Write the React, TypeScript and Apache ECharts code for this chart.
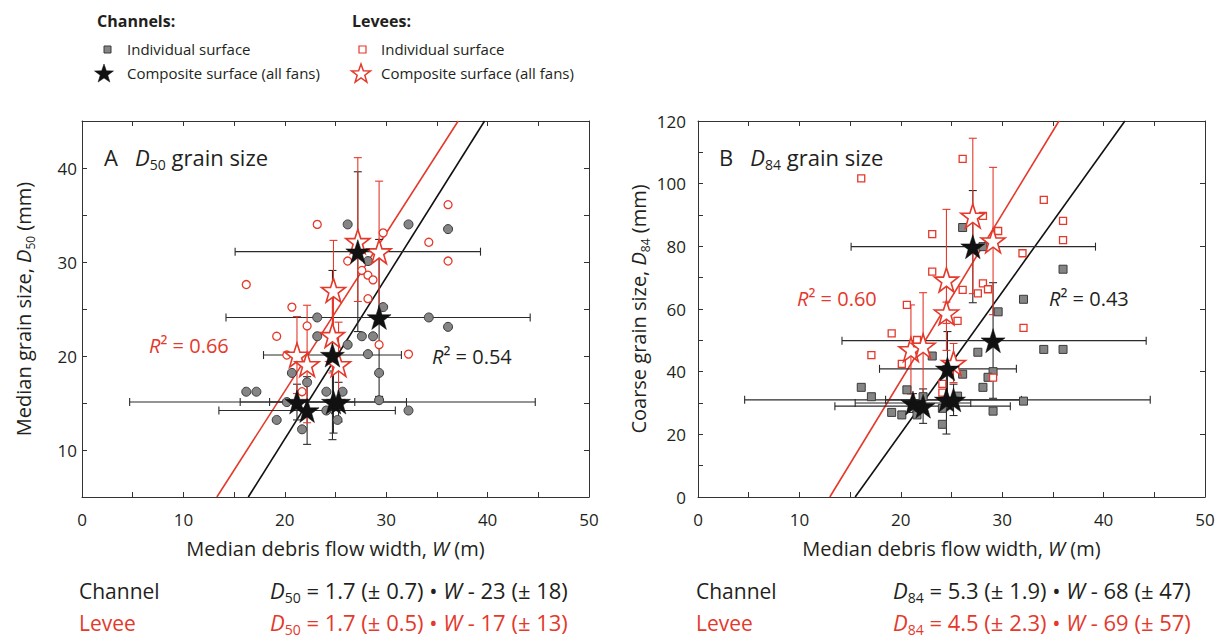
import React, { useEffect, useRef } from 'react';
import * as echarts from 'echarts';

const RED = '#e4392b';
const INK = '#231f20';
const GRAY_FILL = '#858585';
const GRAY_EDGE = '#3a3a3a';
const FONT = '"Open Sans", "Noto Sans", sans-serif';
const STAR = 'path://M50,0L61.8,35.1L98.1,35.1L68.8,56.7L79.4,91L50,70L20.6,91L31.2,56.7L1.9,35.1L38.2,35.1Z';

// ---------- Panel A: D50 ----------
const channelIndividualA = [
  [26.2, 34.0], [32.2, 34.0], [36.1, 33.5], [28.2, 30.1], [29.7, 25.2],
  [23.2, 24.1], [23.2, 22.1], [20.7, 18.2], [22.2, 17.2], [16.2, 16.2], [17.2, 16.2],
  [20.2, 15.1], [19.2, 13.2], [21.7, 12.2], [24.1, 16.2], [24.1, 14.2], [25.2, 13.2],
  [34.2, 24.1], [36.1, 23.1], [27.6, 22.1], [28.7, 22.1], [26.2, 21.2], [28.2, 20.2],
  [29.3, 18.2], [25.7, 16.2], [29.3, 15.3], [32.2, 14.2],
];
const leveeIndividualA = [
  [23.2, 34.0], [16.2, 27.6], [20.7, 25.2], [36.1, 36.1], [34.2, 32.1], [36.1, 30.1],
  [26.2, 30.1], [29.7, 33.1], [27.6, 29.1], [28.2, 28.6], [28.7, 28.1], [28.2, 26.1],
  [22.2, 23.2], [19.2, 22.1], [20.2, 20.1], [21.7, 16.2], [29.3, 21.2], [32.2, 20.2],
];
// [W, D50, Wlow, Whigh, D50low, D50high]
const channelCompositeA = [
  [27.2, 31.1, 15.1, 39.3, 22.6, 39.6],
  [29.3, 24.1, 14.2, 44.2, 15.7, 32.4],
  [24.7, 20.1, 17.9, 31.5, 11.1, 29.1],
  [21.2, 15.1, 15.6, 26.9, 13.2, 17.0],
  [24.8, 15.1, 4.7, 44.7, 11.8, 18.4],
  [25.3, 15.1, 18.5, 32.0, 13.0, 17.2],
  [22.2, 14.2, 13.5, 30.9, 10.6, 17.8],
];
// [W, D50, D50low, D50high]
const leveeCompositeA = [
  [27.2, 32.2, 25.8, 41.1],
  [29.3, 31.1, 23.6, 38.6],
  [24.8, 27.0, 21.7, 32.3],
  [24.7, 22.2, 18.2, 26.2],
  [25.3, 19.1, 14.6, 23.6],
  [21.2, 20.1, 16.0, 24.2],
  [22.2, 19.1, 12.9, 25.4],
];
const channelFitA = [[16.4, 5], [39.7, 45]];
const leveeFitA = [[13.3, 5], [37.1, 45]];

// ---------- Panel B: D84 ----------
const channelIndividualB = [
  [26.1, 86.0], [28.1, 79.9], [36.0, 72.7], [32.1, 63.1],
  [23.1, 45.0], [16.1, 35.0], [17.1, 32.0], [20.6, 34.2], [22.2, 32.0], [19.1, 27.0],
  [20.1, 26.2], [21.6, 26.2], [24.1, 28.3], [24.1, 23.2],
  [29.6, 59.1], [27.6, 46.2], [34.1, 47.1], [36.0, 47.1], [26.1, 39.2], [29.1, 40.0],
  [28.6, 38.2], [28.1, 35.0], [32.1, 30.6], [29.1, 27.4], [25.6, 32.2],
];
const leveeIndividualB = [
  [16.1, 101.7], [23.1, 83.9], [23.1, 71.9], [20.6, 61.3],
  [26.1, 107.9], [28.1, 89.7], [34.1, 94.8], [36.0, 88.1], [36.0, 82.0], [32.0, 77.8],
  [29.6, 84.9], [28.1, 68.2], [26.1, 66.1], [27.6, 65.0], [28.6, 66.3],
  [19.1, 52.2], [21.6, 50.1], [17.1, 45.3], [20.1, 42.5], [24.1, 36.1], [24.1, 33.3],
  [32.1, 54.0], [25.6, 56.2], [29.1, 38.1],
];
const channelCompositeB = [
  [27.1, 79.9, 15.1, 39.2, 62.0, 97.8],
  [29.1, 49.9, 14.2, 44.2, 31.5, 68.4],
  [24.6, 40.9, 17.9, 31.4, 29.0, 52.8],
  [21.2, 30.0, 15.5, 26.9, 27.0, 33.0],
  [22.2, 29.0, 13.5, 30.8, 23.5, 34.5],
  [24.5, 31.0, 4.6, 44.6, 20.1, 41.9],
  [25.2, 31.0, 18.5, 31.9, 26.0, 36.0],
];
const leveeCompositeB = [
  [27.1, 89.7, 64.9, 114.5],
  [29.1, 81.8, 58.2, 105.2],
  [24.5, 69.3, 46.8, 91.8],
  [24.5, 58.8, 55.4, 62.2],
  [21.0, 47.1, 32.9, 61.3],
  [22.2, 48.2, 31.2, 65.2],
  [25.2, 42.7, 36.5, 49.0],
];
const channelFitB = [[15.5, 0], [42.1, 120]];
const leveeFitB = [[13.0, 0], [35.6, 120]];

const xTicks = { min: 0, max: 50, interval: 5, labelEvery: 10 };
const yTicksA = { min: 5, max: 45, interval: 5, labelEvery: 10, rightInterval: 5 };
const yTicksB = { min: 0, max: 120, interval: 10, labelEvery: 20, rightInterval: 20 };

function errorRender(color: string) {
  return (_params: any, api: any) => {
    const w = api.value(0), d = api.value(1);
    const wl = api.value(2), wh = api.value(3), dl = api.value(4), dh = api.value(5);
    const style = { stroke: color, lineWidth: 1.1 };
    const cap = 4;
    const children: any[] = [];
    const seg = (a: number[], b: number[]) =>
      children.push({ type: 'line', shape: { x1: a[0], y1: a[1], x2: b[0], y2: b[1] }, style });
    if (wl !== wh) {
      const a = api.coord([wl, d]);
      const b = api.coord([wh, d]);
      seg(a, b);
      seg([a[0], a[1] - cap], [a[0], a[1] + cap]);
      seg([b[0], b[1] - cap], [b[0], b[1] + cap]);
    }
    if (dl !== dh) {
      const a = api.coord([w, dl]);
      const b = api.coord([w, dh]);
      seg(a, b);
      seg([a[0] - cap, a[1]], [a[0] + cap, a[1]]);
      seg([b[0] - cap, b[1]], [b[0] + cap, b[1]]);
    }
    return { type: 'group', children };
  };
}

const richBase = (size: number, color: string) => ({
  n: { fontSize: size, fontFamily: FONT, color, lineHeight: Math.round(size * 1.32) },
  i: { fontSize: size, fontFamily: FONT, color, fontStyle: 'italic', lineHeight: Math.round(size * 1.32) },
  s: { fontSize: Math.round(size * 0.62), fontFamily: FONT, color, lineHeight: Math.round(size * 0.62), verticalAlign: 'bottom' },
});

function starPts(cx: number, cy: number, R: number) {
  const pts: number[][] = [];
  for (let k = 0; k < 10; k++) {
    const ang = (-90 + k * 36) * Math.PI / 180;
    const r = k % 2 === 0 ? R : R * 0.4;
    pts.push([cx + r * Math.cos(ang), cy + r * Math.sin(ang)]);
  }
  return pts;
}

function txt(x: number, y: number, text: string, size: number, color: string, extra: any = {}) {
  return {
    type: 'text', x, y, silent: true,
    style: {
      text, fill: color, fontSize: size, fontFamily: FONT,
      verticalAlign: 'middle', textVerticalAlign: 'middle', align: 'left', textAlign: 'left',
      ...extra,
    },
  };
}
function richTxt(x: number, y: number, text: string, size: number, color: string) {
  return {
    type: 'text', x, y, silent: true,
    style: {
      text, fill: color, fontSize: size, fontFamily: FONT,
      verticalAlign: 'middle', textVerticalAlign: 'middle', align: 'left', textAlign: 'left',
      rich: richBase(size, color),
    },
  };
}

export default function App() {
  const ref = useRef<HTMLDivElement>(null);
  useEffect(() => {
    document.body.style.margin = '0';
    if (!ref.current) return;
    const chart = echarts.init(ref.current, undefined, { renderer: 'svg' });

    const axisLine = { show: true, onZero: false, lineStyle: { color: '#333', width: 1 } };
    const tick = { show: true, inside: true, length: 5, lineStyle: { color: '#333', width: 1 } };
    const labelStyle = { fontSize: 17, fontFamily: FONT, color: INK };

    const xAxisPair = (gi: number, nameSize: number) => [
      {
        gridIndex: gi, type: 'value', min: xTicks.min, max: xTicks.max, interval: xTicks.interval,
        position: 'bottom', axisLine, axisTick: tick, splitLine: { show: false },
        axisLabel: { ...labelStyle, margin: 14, formatter: (v: number) => (v % xTicks.labelEvery === 0 ? String(v) : '') },
        name: '{n|Median debris flow width, }{i|W}{n| (m)}',
        nameLocation: 'middle', nameGap: 38,
        nameTextStyle: { rich: richBase(nameSize, INK) },
      },
      {
        gridIndex: gi, type: 'value', min: xTicks.min, max: xTicks.max, interval: xTicks.interval,
        position: 'top', axisLine, axisTick: tick, splitLine: { show: false }, axisLabel: { show: false },
      },
    ];
    const yAxisPair = (gi: number, t: any, name: string, gap: number, labelMargin: number) => [
      {
        gridIndex: gi, type: 'value', min: t.min, max: t.max, interval: t.interval,
        position: 'left', axisLine, axisTick: tick, splitLine: { show: false },
        axisLabel: { ...labelStyle, margin: labelMargin, formatter: (v: number) => (v % t.labelEvery === 0 ? String(v) : '') },
        name, nameLocation: 'middle', nameGap: gap, nameRotate: 90,
        nameTextStyle: { rich: richBase(20, INK) },
      },
      {
        gridIndex: gi, type: 'value', min: t.min, max: t.max, interval: t.rightInterval,
        position: 'right', axisLine, axisTick: tick, splitLine: { show: false }, axisLabel: { show: false },
      },
    ];

    const panelSeries = (xi: number, yi: number, chInd: number[][], lvInd: number[][], chComp: number[][], lvComp: number[][], chFit: number[][], lvFit: number[][], indSymbol: string, indSize: number) => [
      {
        type: 'line', xAxisIndex: xi, yAxisIndex: yi, data: lvFit, symbol: 'none', silent: true, z: 1,
        lineStyle: { color: RED, width: 1.6 },
      },
      {
        type: 'line', xAxisIndex: xi, yAxisIndex: yi, data: chFit, symbol: 'none', silent: true, z: 1,
        lineStyle: { color: '#111', width: 1.6 },
      },
      {
        type: 'custom', xAxisIndex: xi, yAxisIndex: yi, z: 2, silent: true,
        renderItem: errorRender('#2b2b2b'), data: chComp, encode: { x: 0, y: 1 },
      },
      {
        type: 'custom', xAxisIndex: xi, yAxisIndex: yi, z: 2, silent: true,
        renderItem: errorRender(RED), data: lvComp.map((r) => [r[0], r[1], r[0], r[0], r[2], r[3]]), encode: { x: 0, y: 1 },
      },
      {
        type: 'scatter', xAxisIndex: xi, yAxisIndex: yi, z: 3, data: chInd, symbol: indSymbol, symbolSize: indSize,
        itemStyle: { color: GRAY_FILL, borderColor: GRAY_EDGE, borderWidth: 1, opacity: 1 },
      },
      {
        type: 'scatter', xAxisIndex: xi, yAxisIndex: yi, z: 3, data: lvInd, symbol: indSymbol, symbolSize: indSize - 1,
        itemStyle: { color: '#ffffff', borderColor: RED, borderWidth: 1.3, opacity: 1 },
      },
      {
        type: 'scatter', xAxisIndex: xi, yAxisIndex: yi, z: 4, data: lvComp.map((r) => [r[0], r[1]]), symbol: STAR, symbolSize: 24,
        itemStyle: { color: '#ffffff', borderColor: RED, borderWidth: 1.6, opacity: 1 },
      },
      {
        type: 'scatter', xAxisIndex: xi, yAxisIndex: yi, z: 5, data: chComp.map((r) => [r[0], r[1]]), symbol: STAR, symbolSize: 24,
        itemStyle: { color: '#111111', borderColor: '#111111', borderWidth: 0.5, opacity: 1 },
      },
    ];

    const graphic: any[] = [
      // legend
      txt(97, 21, 'Channels:', 16, INK, { fontWeight: 'bold' }),
      { type: 'rect', shape: { x: 104, y: 46, width: 7, height: 7 }, style: { fill: GRAY_FILL, stroke: GRAY_EDGE, lineWidth: 1 }, silent: true },
      txt(127, 49, 'Individual surface', 15, INK),
      { type: 'polygon', shape: { points: starPts(104, 74, 10) }, style: { fill: '#111', stroke: '#111', lineWidth: 0.5 }, silent: true },
      txt(127, 73, 'Composite surface (all fans)', 15, INK),
      txt(352, 21, 'Levees:', 16, INK, { fontWeight: 'bold' }),
      { type: 'rect', shape: { x: 359, y: 46, width: 7, height: 7 }, style: { fill: '#fff', stroke: RED, lineWidth: 1.2 }, silent: true },
      txt(381, 49, 'Individual surface', 15, INK),
      { type: 'polygon', shape: { points: starPts(361, 74, 10) }, style: { fill: '#fff', stroke: RED, lineWidth: 1.5 }, silent: true },
      txt(381, 73, 'Composite surface (all fans)', 15, INK),
      // panel labels
      richTxt(104, 157, '{n|A   }{i|D}{s|50}{n| grain size}', 22, INK),
      richTxt(719, 157, '{n|B   }{i|D}{s|84}{n| grain size}', 22, INK),
      richTxt(149, 345, '{i|R}{n|² = 0.66}', 20, RED),
      richTxt(432, 356, '{i|R}{n|² = 0.54}', 20, INK),
      richTxt(797, 298, '{i|R}{n|² = 0.60}', 20, RED),
      richTxt(1049, 298, '{i|R}{n|² = 0.43}', 20, INK),
      // equations
      txt(79, 591, 'Channel', 21, INK),
      txt(79, 623, 'Levee', 21, RED),
      richTxt(270, 590, '{i|D}{s|50}{n| = 1.7 (± 0.7) • }{i|W}{n| - 23 (± 18)}', 22, INK),
      richTxt(270, 622, '{i|D}{s|50}{n| = 1.7 (± 0.5) • }{i|W}{n| - 17 (± 13)}', 22, RED),
      txt(696, 591, 'Channel', 21, INK),
      txt(696, 623, 'Levee', 21, RED),
      richTxt(893, 590, '{i|D}{s|84}{n| = 5.3 (± 1.9) • }{i|W}{n| - 68 (± 47)}', 22, INK),
      richTxt(893, 622, '{i|D}{s|84}{n| = 4.5 (± 2.3) • }{i|W}{n| - 69 (± 57)}', 22, RED),
    ];

    chart.setOption({
      animation: false,
      backgroundColor: '#ffffff',
      textStyle: { fontFamily: FONT },
      grid: [
        { left: 82, top: 121, width: 507, height: 376 },
        { left: 698, top: 121, width: 507, height: 376 },
      ],
      xAxis: [...xAxisPair(0, 20), ...xAxisPair(1, 20)],
      yAxis: [
        ...yAxisPair(0, yTicksA, '{n|Median grain size, }{i|D}{s|50}{n| (mm)}', 46, 5),
        ...yAxisPair(1, yTicksB, '{n|Coarse grain size, }{i|D}{s|84}{n| (mm)}', 47, 12),
      ],
      series: [
        ...panelSeries(0, 0, channelIndividualA, leveeIndividualA, channelCompositeA, leveeCompositeA, channelFitA, leveeFitA, 'circle', 9),
        ...panelSeries(2, 2, channelIndividualB, leveeIndividualB, channelCompositeB, leveeCompositeB, channelFitB, leveeFitB, 'rect', 8),
      ],
      graphic,
    });
    return () => chart.dispose();
  }, []);
  return <div ref={ref} style={{ width: 1221, height: 639 }} />;
}
